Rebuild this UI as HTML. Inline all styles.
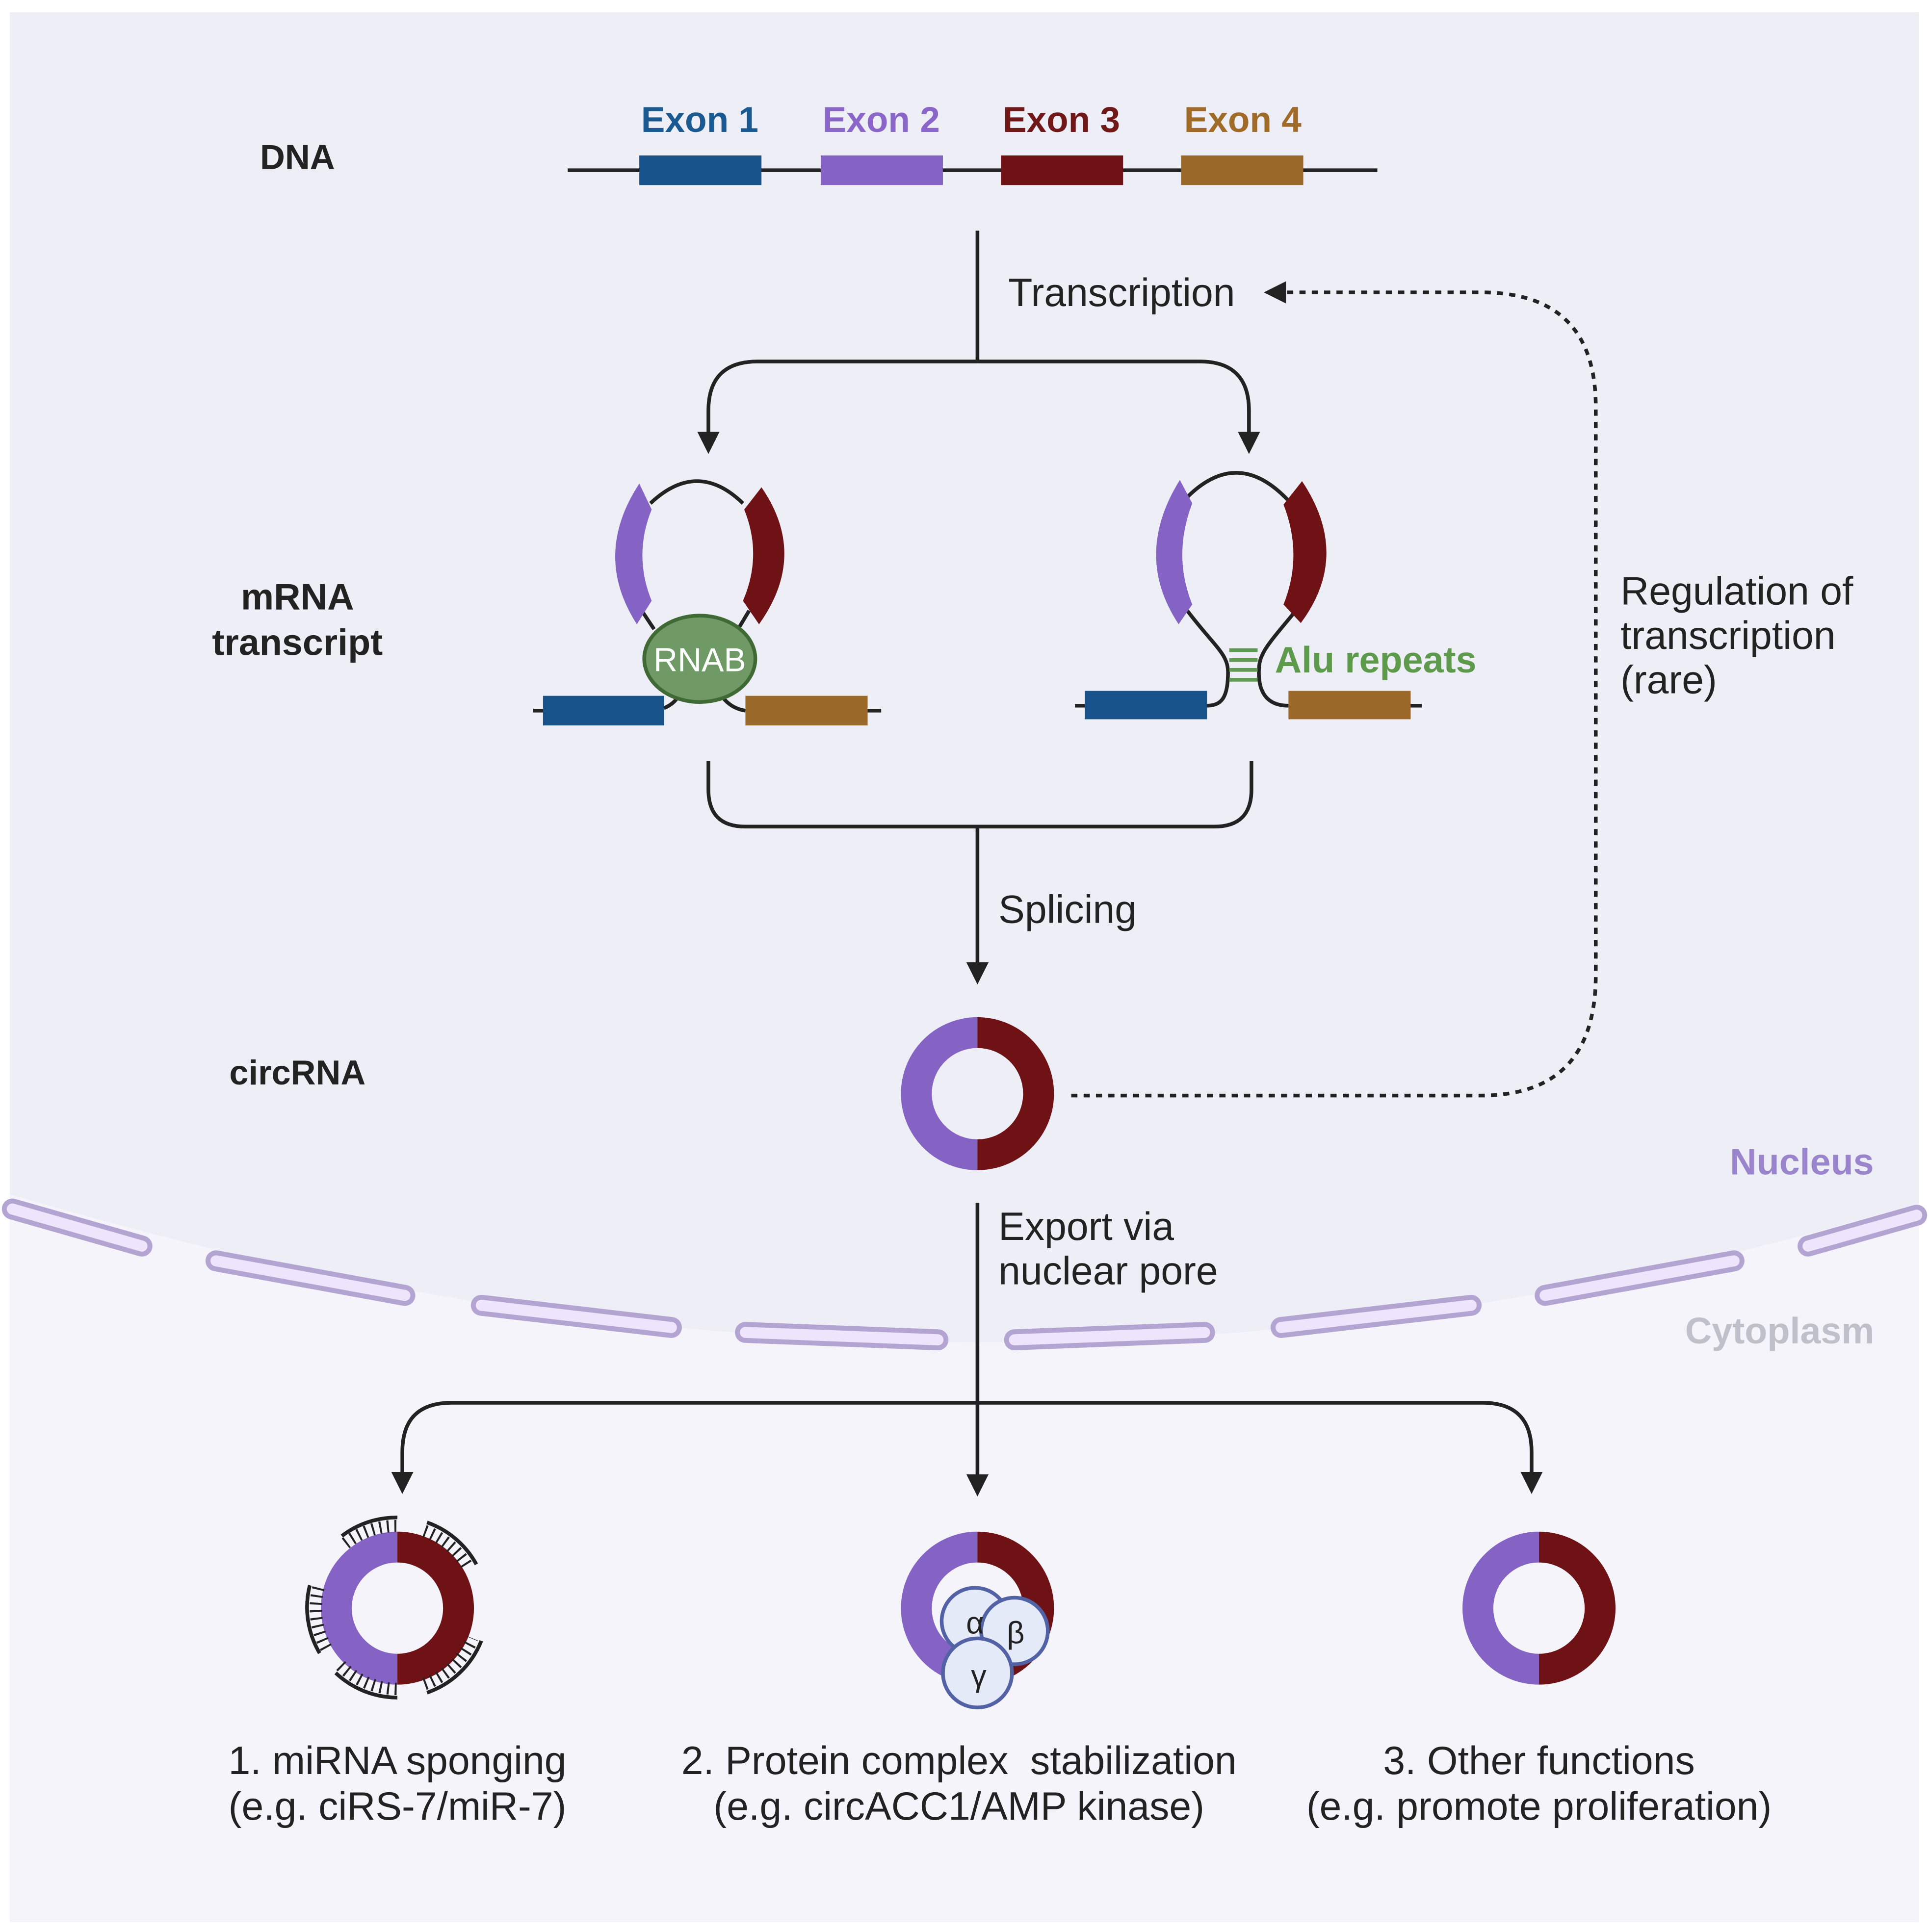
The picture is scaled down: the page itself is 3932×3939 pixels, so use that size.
<!DOCTYPE html>
<html><head><meta charset="utf-8"><style>
html,body{margin:0;padding:0;background:#fff}
svg{display:block}
text{font-family:"Liberation Sans",sans-serif}
</style></head><body>
<svg width="3932" height="3939" viewBox="0 0 1563 1566" preserveAspectRatio="none" xmlns="http://www.w3.org/2000/svg">
<defs>
<marker id="ah" markerWidth="18" markerHeight="18" refX="12" refY="9" orient="auto" markerUnits="userSpaceOnUse" viewBox="0 0 18 18">
<path d="M0,0 L18,9 L0,18 z" fill="#222"/></marker>
</defs>
<rect width="1563" height="1566" fill="#fff"/>
<rect x="8" y="10" width="1547" height="1548" fill="#f4f4fa"/>
<path d="M8,10 H1555 V975 Q1170,1090 792,1088 Q410,1088 8,968 Z" fill="#eeeef6"/>
<g fill="none" stroke="#b4a4d2" stroke-width="17" stroke-linecap="round">
<path d="M10,980 L115,1010"/><path d="M175,1022 L328,1050"/><path d="M390,1058 L544,1076"/><path d="M604,1080 L760,1086"/><path d="M822,1086 L976,1080"/><path d="M1038,1076 L1192,1058"/><path d="M1252,1050 L1405,1022"/><path d="M1465,1010 L1553,985"/>
</g>
<g stroke="#eee4fc" stroke-width="9" stroke-linecap="round" fill="none">
<path d="M10,980 L115,1010"/><path d="M175,1022 L328,1050"/><path d="M390,1058 L544,1076"/><path d="M604,1080 L760,1086"/><path d="M822,1086 L976,1080"/><path d="M1038,1076 L1192,1058"/><path d="M1252,1050 L1405,1022"/><path d="M1465,1010 L1553,985"/>
</g>

<g font-weight="bold" font-size="28" fill="#222" text-anchor="middle">
<text x="241" y="137">DNA</text>
<text x="241" y="494" font-size="30">mRNA</text>
<text x="241" y="531" font-size="30">transcript</text>
<text x="241" y="879">circRNA</text>
</g>
<g font-weight="bold" font-size="29" text-anchor="middle">
<text x="567" y="107" fill="#1a5a90">Exon 1</text>
<text x="714" y="107" fill="#8a66c8">Exon 2</text>
<text x="860" y="107" fill="#701818">Exon 3</text>
<text x="1007" y="107" fill="#a06a28">Exon 4</text>
</g>
<line x1="460" y1="138" x2="1116" y2="138" stroke="#222" stroke-width="3"/>
<rect x="518" y="126" width="99" height="24" fill="#17528a"/>
<rect x="665" y="126" width="99" height="24" fill="#8463c4"/>
<rect x="811" y="126" width="99" height="24" fill="#6e1216"/>
<rect x="957" y="126" width="99" height="24" fill="#9a6828"/>

<g fill="none" stroke="#222" stroke-width="3">
<line x1="792" y1="187" x2="792" y2="293"/>
<path d="M792,293 H614 Q574,293 574,333 V362" marker-end="url(#ah)"/>
<path d="M792,293 H972 Q1012,293 1012,333 V362" marker-end="url(#ah)"/>
</g>
<text x="817" y="248" font-size="32" fill="#222">Transcription</text>
<path d="M868,888 H1200 Q1293,888 1293,790 V330 Q1293,237 1200,237 H1030" fill="none" stroke="#222" stroke-width="3" stroke-dasharray="5,5" marker-end="url(#ah)"/>
<text x="1313" y="490" font-size="32" fill="#222">Regulation of</text>
<text x="1313" y="526" font-size="32" fill="#222">transcription</text>
<text x="1313" y="562" font-size="32" fill="#222">(rare)</text>

<g fill="none" stroke="#222" stroke-width="3">
<path d="M527,408 Q565,372 602,408"/>
<path d="M432,576 H440"/><path d="M703,576 H714"/>
<path d="M538,574 Q548,570 552,560"/><path d="M582,560 Q590,574 604,576"/>
<path d="M520,495 L530,510"/><path d="M607,495 L598,510"/>
</g>
<path d="M518,392 L528,413 Q513,450 528,487 L516,506 Q480,450 518,392 Z" fill="#8463c4"/>
<path d="M617,395 L603,413 Q618,450 602,487 L615,506 Q655,450 617,395 Z" fill="#6e1216"/>
<rect x="440" y="564" width="98" height="24" fill="#17528a"/>
<rect x="604" y="564" width="99" height="24" fill="#9a6828"/>
<ellipse cx="567" cy="534" rx="45" ry="35" fill="#6f9a65" stroke="#3f6a35" stroke-width="3"/>
<text x="567" y="544" font-size="27" fill="#fff" text-anchor="middle">RNAB</text>

<g fill="none" stroke="#222" stroke-width="3">
<path d="M960,405 Q1003,360 1046,408"/>
<path d="M962,495 C985,525 995,530 995,545 C995,565 990,572 978,572"/>
<path d="M1050,495 C1025,525 1020,530 1020,545 C1020,565 1030,572 1044,572"/>
<path d="M871,572 H879"/><path d="M1143,572 H1152"/>
</g>
<path d="M956,389 L966,408 Q950,450 966,490 L955,506 Q918,450 956,389 Z" fill="#8463c4"/>
<path d="M1055,390 L1040,409 Q1056,450 1040,490 L1054,505 Q1095,450 1055,390 Z" fill="#6e1216"/>
<g stroke="#5e9a52" stroke-width="3"><line x1="996" y1="527" x2="1019" y2="527"/><line x1="996" y1="535" x2="1019" y2="535"/><line x1="996" y1="543" x2="1019" y2="543"/><line x1="996" y1="551" x2="1019" y2="551"/></g>
<text x="1033" y="545" font-size="30" font-weight="bold" fill="#5e9a4c">Alu repeats</text>
<rect x="879" y="560" width="99" height="23" fill="#17528a"/>
<rect x="1044" y="560" width="99" height="23" fill="#9a6828"/>

<g fill="none" stroke="#222" stroke-width="3">
<path d="M574,617 V640 Q574,670 604,670 H984 Q1014,670 1014,640 V617"/>
<path d="M792,670 V792" marker-end="url(#ah)"/>
</g>
<text x="809" y="748" font-size="32" fill="#222">Splicing</text>

<path d="M792,837 A49.5,49.5 0 0 0 792,936" fill="none" stroke="#8463c4" stroke-width="25"/>
<path d="M792,837 A49.5,49.5 0 0 1 792,936" fill="none" stroke="#6e1216" stroke-width="25"/>

<text x="1460" y="952" font-size="30" font-weight="bold" fill="#9a85cc" text-anchor="middle">Nucleus</text>
<text x="1442" y="1089" font-size="30" font-weight="bold" fill="#c0c0ca" text-anchor="middle">Cytoplasm</text>

<g fill="none" stroke="#222" stroke-width="3">
<path d="M792,975 V1207" marker-end="url(#ah)"/>
<path d="M792,1137 H366 Q326,1137 326,1177 V1205" marker-end="url(#ah)"/>
<path d="M792,1137 H1201 Q1241,1137 1241,1177 V1205" marker-end="url(#ah)"/>
</g>
<text x="809" y="1005" font-size="32" fill="#222">Export via</text>
<text x="809" y="1041" font-size="32" fill="#222">nuclear pore</text>

<g fill="none" stroke-width="25">
<path d="M322,1254 A49.5,49.5 0 0 0 322,1353" stroke="#8463c4"/><path d="M322,1254 A49.5,49.5 0 0 1 322,1353" stroke="#6e1216"/>
<path d="M792,1254 A49.5,49.5 0 0 0 792,1353" stroke="#8463c4"/><path d="M792,1254 A49.5,49.5 0 0 1 792,1353" stroke="#6e1216"/>
<path d="M1247,1254 A49.5,49.5 0 0 0 1247,1353" stroke="#8463c4"/><path d="M1247,1254 A49.5,49.5 0 0 1 1247,1353" stroke="#6e1216"/>
</g>
<g fill="none" stroke="#222">
<g stroke-width="3">
<path d="M277,1245 A73,73 0 0 1 322,1230"/>
<path d="M346,1234 A73,73 0 0 1 386,1268"/>
<path d="M251,1285 A73,73 0 0 0 259,1340"/>
<path d="M272,1356 A73,73 0 0 0 322,1376"/>
<path d="M346,1372 A73,73 0 0 0 390,1330"/>
</g>
<g stroke-width="10" stroke-dasharray="1.6,4.5">
<path d="M280,1251 A66,66 0 0 1 322,1237"/>
<path d="M344,1241 A66,66 0 0 1 380,1272"/>
<path d="M258,1287 A66,66 0 0 0 265,1337"/>
<path d="M276,1350 A66,66 0 0 0 322,1369"/>
<path d="M344,1365 A66,66 0 0 0 383,1328"/>
</g>
</g>
<g fill="#e4eaf8" stroke="#5262a4" stroke-width="3">
<circle cx="790" cy="1314" r="27"/>
<circle cx="822" cy="1322" r="27"/>
<circle cx="792" cy="1356" r="28"/>
</g>
<g font-size="25" fill="#222" text-anchor="middle">
<text x="790" y="1324">α</text><text x="823" y="1332">β</text><text x="793" y="1367">γ</text>
</g>

<g font-size="32" fill="#222" text-anchor="middle">
<text x="322" y="1438">1. miRNA sponging</text>
<text x="322" y="1475">(e.g. ciRS-7/miR-7)</text>
<text x="777" y="1438" xml:space="preserve">2. Protein complex  stabilization</text>
<text x="777" y="1475">(e.g. circACC1/AMP kinase)</text>
<text x="1247" y="1438">3. Other functions</text>
<text x="1247" y="1475">(e.g. promote proliferation)</text>
</g>
</svg>
</body></html>
